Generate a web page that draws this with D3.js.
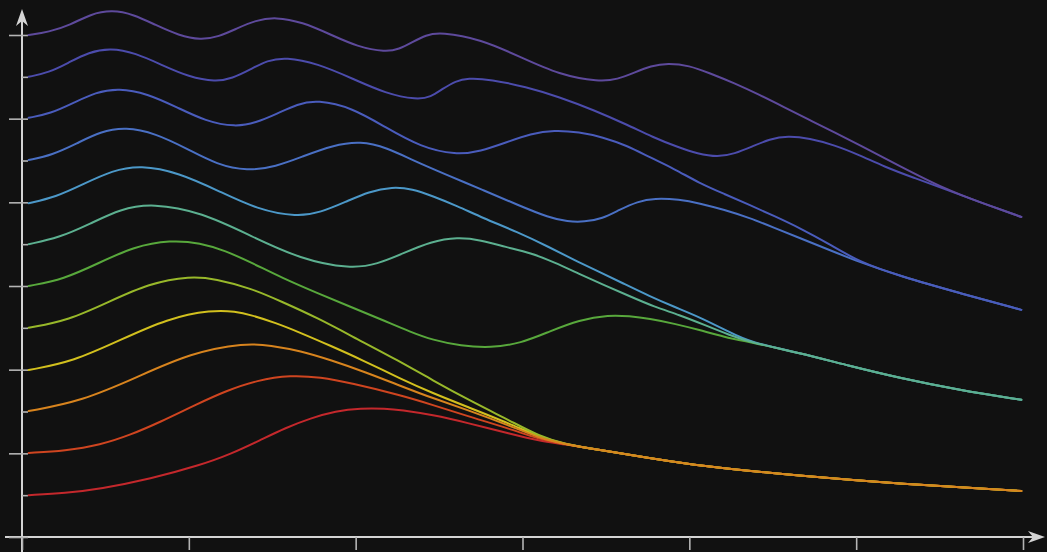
<!DOCTYPE html>
<html>
<head>
<meta charset="utf-8">
<script src="https://cdn.jsdelivr.net/npm/d3@7/dist/d3.min.js"></script>
<style>
  html, body { margin: 0; padding: 0; background: #111111; }
  svg { display: block; }
</style>
</head>
<body>
<svg id="chart" width="1047" height="552"></svg>
<script>
// Axis ticks
const xTicks = [0, 1, 2, 3, 4, 5, 6];
const yMajorTicks = [0, 2, 4, 6, 8, 10, 12];
const yAllTicks = [0, 1, 2, 3, 4, 5, 6, 7, 8, 9, 10, 11, 12];

// Shared tails: curves of one family merge and continue together
const tailWarm = [[3.25, 2.22], [3.46, 2.08], [3.76, 1.89], [4.06, 1.70], [4.66, 1.46], [5.26, 1.27], [5.99, 1.10]];
const tailGreen = [[4.36, 4.66], [4.66, 4.40], [4.96, 4.09], [5.26, 3.80], [5.62, 3.51], [5.99, 3.28]];
const tailBlue = [[5.02, 6.57], [5.26, 6.24], [5.62, 5.83], [5.99, 5.43]];
const tailViolet = [[5.53, 8.32], [5.77, 7.96], [5.99, 7.65]];

// Individual curve heads, level 1 (bottom) to level 12 (top)
const curve1 = [[0.04, 1.00], [0.26, 1.05], [0.47, 1.15], [0.77, 1.39], [1.07, 1.72], [1.25, 1.98], [1.43, 2.32], [1.58, 2.61], [1.73, 2.84], [1.88, 3.01], [2.03, 3.08], [2.18, 3.07], [2.27, 3.04], [2.46, 2.92], [2.67, 2.73], [2.93, 2.46], [3.10, 2.30]];
const curve2 = [[0.04, 2.01], [0.26, 2.06], [0.47, 2.20], [0.65, 2.44], [0.83, 2.75], [1.04, 3.16], [1.22, 3.49], [1.41, 3.75], [1.61, 3.87], [1.79, 3.82], [1.97, 3.68], [2.27, 3.39], [2.46, 3.16], [2.67, 2.89], [2.93, 2.58], [3.10, 2.34]];
const curve3 = [[0.04, 3.01], [0.36, 3.25], [0.69, 3.82], [1.01, 4.40], [1.34, 4.64], [1.49, 4.58], [1.67, 4.45], [1.85, 4.23], [2.06, 3.94], [2.27, 3.61], [2.46, 3.32], [2.67, 3.04], [2.93, 2.65], [3.10, 2.37]];
const curve4 = [[0.04, 3.99], [0.31, 4.20], [0.59, 4.71], [0.87, 5.22], [1.14, 5.43], [1.28, 5.39], [1.37, 5.31], [1.52, 5.12], [1.67, 4.88], [1.85, 4.57], [2.04, 4.23], [2.27, 3.78], [2.46, 3.44], [2.67, 3.11], [2.93, 2.70], [3.10, 2.39]];
const curve5 = [[0.04, 5.00], [0.28, 5.18], [0.52, 5.62], [0.76, 6.06], [1.01, 6.24], [1.16, 6.17], [1.37, 5.95], [1.56, 5.62], [1.77, 5.24], [2.01, 4.73], [2.25, 4.23], [2.46, 3.75], [2.69, 3.25], [2.93, 2.77], [3.10, 2.41]];
const curve6 = [[0.04, 6.00], [0.25, 6.16], [0.46, 6.55], [0.67, 6.94], [0.89, 7.10], [1.07, 7.03], [1.22, 6.84], [1.37, 6.57], [1.56, 6.19], [1.77, 5.83], [1.97, 5.50], [2.16, 5.19], [2.33, 4.90], [2.46, 4.71], [2.63, 4.57], [2.81, 4.52], [2.99, 4.63], [3.16, 4.91], [3.34, 5.19], [3.52, 5.31], [3.64, 5.28], [3.76, 5.22], [3.91, 5.10], [4.06, 4.95], [4.21, 4.78]];
const curve7 = [[0.04, 7.00], [0.22, 7.15], [0.41, 7.49], [0.59, 7.84], [0.78, 7.98], [1.08, 7.76], [1.37, 7.20], [1.67, 6.64], [1.97, 6.41], [2.13, 6.52], [2.29, 6.79], [2.45, 7.06], [2.61, 7.17], [2.75, 7.10], [2.90, 6.93], [3.05, 6.79], [3.19, 6.57], [3.34, 6.29], [3.49, 6.02], [3.64, 5.76], [3.79, 5.50], [3.94, 5.31], [4.09, 5.07], [4.24, 4.83]];
const curve8 = [[0.04, 7.98], [0.20, 8.12], [0.37, 8.44], [0.54, 8.76], [0.71, 8.89], [0.94, 8.71], [1.18, 8.27], [1.41, 7.83], [1.65, 7.65], [1.79, 7.76], [1.94, 8.01], [2.08, 8.26], [2.22, 8.37], [2.34, 8.32], [2.46, 8.15], [2.61, 7.91], [2.76, 7.63], [2.97, 7.29], [3.16, 6.93], [3.31, 6.62], [3.46, 6.34], [3.61, 6.05], [3.76, 5.76], [3.91, 5.50], [4.06, 5.26], [4.24, 4.90]];
const curve9 = [[0.04, 9.01], [0.18, 9.13], [0.33, 9.41], [0.47, 9.69], [0.62, 9.80], [0.80, 9.65], [0.99, 9.28], [1.17, 8.90], [1.35, 8.75], [1.52, 8.85], [1.69, 9.11], [1.86, 9.36], [2.03, 9.47], [2.19, 9.30], [2.34, 9.01], [2.55, 8.65], [2.76, 8.30], [2.97, 7.94], [3.16, 7.63], [3.27, 7.54], [3.37, 7.53], [3.48, 7.61], [3.58, 7.82], [3.69, 8.02], [3.79, 8.10], [3.94, 8.07], [4.06, 7.98], [4.21, 7.82], [4.36, 7.63], [4.51, 7.39], [4.66, 7.15], [4.84, 6.86]];
const curve10 = [[0.04, 10.02], [0.17, 10.12], [0.31, 10.38], [0.44, 10.63], [0.58, 10.73], [0.75, 10.60], [0.93, 10.27], [1.10, 9.94], [1.28, 9.80], [1.40, 9.90], [1.53, 10.12], [1.65, 10.35], [1.77, 10.45], [1.98, 10.26], [2.18, 9.79], [2.39, 9.32], [2.60, 9.13], [2.75, 9.22], [2.90, 9.43], [3.05, 9.64], [3.19, 9.73], [3.34, 9.68], [3.48, 9.56], [3.63, 9.35], [3.76, 9.08], [3.91, 8.80], [4.06, 8.46], [4.21, 8.20], [4.36, 7.94], [4.51, 7.67], [4.66, 7.39], [4.84, 7.00]];
const curve11 = [[0.04, 11.00], [0.16, 11.10], [0.28, 11.34], [0.40, 11.59], [0.53, 11.69], [0.68, 11.57], [0.84, 11.28], [1.00, 11.00], [1.16, 10.88], [1.26, 10.96], [1.37, 11.18], [1.47, 11.39], [1.58, 11.47], [1.77, 11.32], [1.98, 10.96], [2.18, 10.60], [2.37, 10.45], [2.45, 10.52], [2.52, 10.71], [2.60, 10.90], [2.67, 10.97], [2.81, 10.94], [3.02, 10.76], [3.22, 10.52], [3.43, 10.20], [3.63, 9.85], [3.78, 9.56], [3.93, 9.32], [4.05, 9.16], [4.17, 9.08], [4.27, 9.16], [4.38, 9.34], [4.48, 9.51], [4.59, 9.59], [4.72, 9.53], [4.87, 9.37], [5.02, 9.13], [5.17, 8.85], [5.35, 8.58]];
const curve12 = [[0.04, 12.00], [0.16, 12.07], [0.29, 12.24], [0.41, 12.50], [0.54, 12.60], [0.67, 12.49], [0.80, 12.24], [0.94, 11.99], [1.07, 11.88], [1.18, 11.96], [1.29, 12.16], [1.40, 12.35], [1.52, 12.43], [1.68, 12.31], [1.85, 12.01], [2.01, 11.72], [2.18, 11.59], [2.26, 11.66], [2.34, 11.83], [2.42, 12.00], [2.51, 12.07], [2.75, 11.90], [2.99, 11.47], [3.22, 11.05], [3.46, 10.88], [3.57, 10.94], [3.67, 11.10], [3.77, 11.26], [3.87, 11.33], [4.00, 11.27], [4.12, 11.09], [4.27, 10.85], [4.42, 10.57], [4.57, 10.27], [4.72, 9.97], [4.87, 9.67], [5.02, 9.37], [5.26, 8.87]];

const series = [
  { level: 1,  color: "#c4282c", pts: curve1.concat(tailWarm) },
  { level: 2,  color: "#cf4520", pts: curve2.concat(tailWarm) },
  { level: 3,  color: "#d8841e", pts: curve3.concat(tailWarm) },
  { level: 4,  color: "#d2c01e", pts: curve4.concat(tailWarm) },
  { level: 5,  color: "#98b82a", pts: curve5.concat(tailWarm) },
  { level: 6,  color: "#58a83c", pts: curve6.concat(tailGreen) },
  { level: 7,  color: "#5cb090", pts: curve7.concat(tailGreen) },
  { level: 8,  color: "#4c98c8", pts: curve8.concat(tailGreen) },
  { level: 9,  color: "#4a70c4", pts: curve9.concat(tailBlue) },
  { level: 10, color: "#4a5cbc", pts: curve10.concat(tailBlue) },
  { level: 11, color: "#4c4cac", pts: curve11.concat(tailViolet) },
  { level: 12, color: "#5e4a9c", pts: curve12.concat(tailViolet) }
];
// Paint order: the middle curve of each family ends up on top of the shared tail
const paintOrder = [1, 2, 4, 5, 3, 6, 8, 7, 9, 10, 11, 12];

const svg = d3.select("#chart");
const W = 1047, H = 552;
svg.append("rect").attr("width", W).attr("height", H).attr("fill", "#111111");

const x = d3.scaleLinear().domain([0, 6]).range([22, 1023]);
const y = d3.scaleLinear().domain([0, 12]).range([537, 35]);

const axisColor = "#d4d4d4";
const tickColor = "#b4b4b4";

// Axis lines
svg.append("line").attr("x1", 5).attr("x2", 1036).attr("y1", y(0)).attr("y2", y(0))
  .attr("stroke", axisColor).attr("stroke-width", 2);
svg.append("line").attr("x1", x(0)).attr("x2", x(0)).attr("y1", 18).attr("y2", H)
  .attr("stroke", axisColor).attr("stroke-width", 2);

// Arrow heads
svg.append("path")
  .attr("d", `M${x(0)},9 L${x(0) + 6},26 L${x(0)},21 L${x(0) - 6},26 Z`)
  .attr("fill", axisColor);
svg.append("path")
  .attr("d", `M1045,${y(0)} L1028,${y(0) - 6} L1033,${y(0)} L1028,${y(0) + 6} Z`)
  .attr("fill", axisColor);

// Ticks
const xAxis = d3.axisBottom(x).tickValues(xTicks).tickSize(13).tickFormat("");
svg.append("g").attr("transform", `translate(0,${y(0)})`).call(xAxis)
  .call(g => g.select(".domain").remove())
  .call(g => g.selectAll("line").attr("stroke", tickColor).attr("stroke-width", 1.6));

const yMajor = d3.axisLeft(y).tickValues(yMajorTicks).tickSize(13).tickFormat("");
svg.append("g").attr("transform", `translate(${x(0)},0)`).call(yMajor)
  .call(g => g.select(".domain").remove())
  .call(g => g.selectAll("line").attr("stroke", tickColor).attr("stroke-width", 1.6));

const yMinor = d3.axisRight(y).tickValues(yAllTicks).tickSize(6).tickFormat("");
svg.append("g").attr("transform", `translate(${x(0)},0)`).call(yMinor)
  .call(g => g.select(".domain").remove())
  .call(g => g.selectAll("line").attr("stroke", tickColor).attr("stroke-width", 1.6));

// Curves: a B-spline over the dense samples keeps every line smooth
const line = d3.line()
  .x(d => x(d[0]))
  .y(d => y(d[1]))
  .curve(d3.curveBasis);

const byLevel = new Map(series.map(s => [s.level, s]));
svg.append("g").attr("class", "curves")
  .selectAll("path")
  .data(paintOrder.map(l => byLevel.get(l)))
  .join("path")
  .attr("d", d => line(d.pts))
  .attr("fill", "none")
  .attr("stroke", d => d.color)
  .attr("stroke-width", 2)
  .attr("stroke-linecap", "round")
  .attr("stroke-linejoin", "round");
</script>
</body>
</html>
